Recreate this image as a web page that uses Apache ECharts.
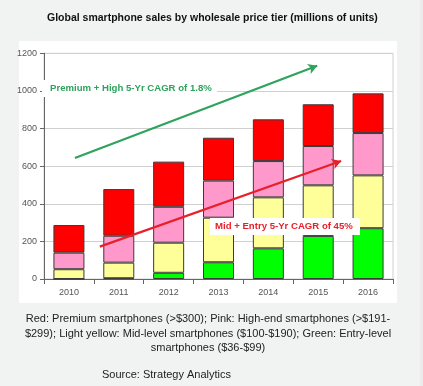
<!DOCTYPE html>
<html><head><meta charset="utf-8">
<script src="https://cdn.jsdelivr.net/npm/echarts@6/dist/echarts.min.js"></script>
<style>html,body{margin:0;padding:0;background:#f1f2f2;}#c{width:423px;height:386px;}</style>
</head><body><div id="c"></div>
<script>
const years = ['2010','2011','2012','2013','2014','2015','2016'];
const entry = [0, 4, 33, 89, 163, 229, 270];
const mid = [52, 83, 160, 237, 271, 269, 281];
const highEnd = [88, 143, 191, 197, 193, 209, 225];
const premium = [147, 248, 240, 228, 222, 222, 211];
const yTicks = [0, 200, 400, 600, 800, 1000, 1200];
// arrows in [category position, value]
const greenArrow = [[0.12, 643], [4.98, 1134]];
const redArrow = [[0.62, 172], [5.46, 627]];

const chart = echarts.init(document.getElementById('c'));
const border = {borderColor:'#3a3a3a', borderWidth:1};
function bar(name, data, color){
  return {name, type:'bar', stack:'s', data, barWidth:31, itemStyle:Object.assign({color}, border), silent:true, animation:false};
}
function arrow(pts, color){
  return {type:'line', xAxisIndex:1, data:pts, showSymbol:false, lineStyle:{width:0}, silent:true, animation:false, z:5,
    markLine:{silent:true, animation:false, symbol:['none','arrow'], symbolSize:[8,9], label:{show:false},
      lineStyle:{color, width:2.2, type:'solid'},
      data:[[{coord:pts[0]},{coord:pts[1]}]]}};
}
chart.setOption({
  backgroundColor:'#f1f2f2',
  animation:false,
  title:{text:'Global smartphone sales by wholesale price tier (millions of units)', left:42, top:8,
    textStyle:{fontFamily:'Liberation Sans, Arial', fontSize:10.5, fontWeight:'bold', color:'#111'}},
  grid:{left:44, right:30, top:53.3, bottom:107, show:true, borderColor:'#d0d0d0', borderWidth:1, backgroundColor:'transparent'},
  xAxis:[{type:'category', data:years, axisLine:{lineStyle:{color:'#666'}}, axisTick:{show:true, lineStyle:{color:'#666'}},
    axisLabel:{color:'#555', fontSize:9, fontFamily:'Liberation Sans, Arial', margin:9}},
    {type:'value', min:-0.5, max:6.5, show:false}],
  yAxis:{type:'value', min:yTicks[0], max:yTicks[yTicks.length-1], interval:yTicks[1]-yTicks[0],
    axisLine:{show:true, onZero:false, lineStyle:{color:'#666'}}, axisTick:{show:true, length:4, lineStyle:{color:'#666'}},
    splitLine:{lineStyle:{color:'#d0d0d0'}},
    axisLabel:{color:'#555', fontSize:9, fontFamily:'Liberation Sans, Arial', margin:7, formatter:v=>String(v)}},
  graphic:[
    {type:'rect', z:-10, silent:true, shape:{x:19, y:41, width:378, height:262}, style:{fill:'#ffffff'}},
    {type:'rect', z:-10, silent:true, shape:{x:420, y:0, width:3, height:386}, style:{fill:'#ebebeb'}},
    {type:'rect', z:100, silent:true, shape:{x:42, y:80, width:175, height:17}, style:{fill:'#ffffff'}},
    {type:'text', z:101, silent:true, x:50, y:83, style:{text:'Premium + High 5-Yr CAGR of 1.8%', fill:'#2ea35c',
      font:'bold 9.6px "Liberation Sans", Arial'}},
    {type:'rect', z:100, silent:true, shape:{x:210, y:218, width:150, height:17}, style:{fill:'#ffffff'}},
    {type:'text', z:101, silent:true, x:215, y:221, style:{text:'Mid + Entry 5-Yr CAGR of 45%', fill:'#e8202a',
      font:'bold 9.6px "Liberation Sans", Arial'}},
    {type:'text', silent:true, x:208, y:312, style:{text:'Red: Premium smartphones (>$300); Pink: High-end smartphones (>$191-\n$299); Light yellow: Mid-level smartphones ($100-$190); Green: Entry-level\nsmartphones ($36-$99)',
      fill:'#222', font:'11px "Liberation Sans", Arial', align:'center', lineHeight:14.5}},
    {type:'text', silent:true, x:102, y:369, style:{text:'Source: Strategy Analytics', fill:'#222', font:'11px "Liberation Sans", Arial'}}
  ],
  series:[
    bar('Entry', entry, '#00ff00'),
    bar('Mid', mid, '#ffff99'),
    bar('High-end', highEnd, '#ff99cc'),
    bar('Premium', premium, '#ff0000'),
    arrow(greenArrow, '#2ea35c'),
    arrow(redArrow, '#e8202a')
  ]
});
</script></body></html>
